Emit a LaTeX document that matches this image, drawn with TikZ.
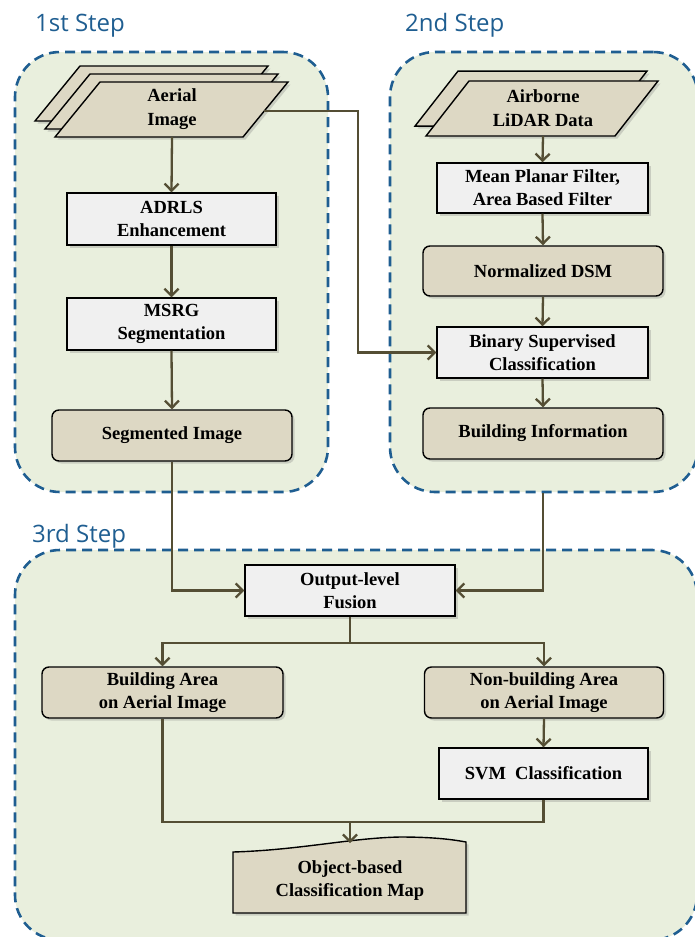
\documentclass[tikz,border=0pt]{standalone}
\usepackage{fontspec}
\setmainfont{Liberation Serif}
\newfontfamily\titlefont{Open Sans}
\usetikzlibrary{arrows.meta,shadows}
\definecolor{framegreen}{RGB}{233,239,221}
\definecolor{frameblue}{RGB}{31,94,145}
\definecolor{tanfill}{RGB}{221,216,196}
\definecolor{grayfill}{RGB}{240,240,240}
\definecolor{connector}{RGB}{84,78,52}
\tikzset{
  stepframe/.style={draw=frameblue, fill=framegreen, line width=2.6pt, dash pattern=on 10pt off 6pt, rounded corners=45pt, inner sep=0pt},
  steptitle/.style={font=\titlefont\fontsize{24}{28}\selectfont, text=frameblue, anchor=base west, inner sep=0pt},
  boxshadow/.style={drop shadow={opacity=0.3, shadow xshift=2.5pt, shadow yshift=-2.5pt}},
  boxtext/.style={font=\bfseries\fontsize{18.5}{23}\selectfont, align=center, inner sep=0pt},
  graybox/.style={boxtext, draw=black, line width=1.4pt, fill=grayfill, boxshadow},
  tanbox/.style={boxtext, draw=black, line width=1.4pt, fill=tanfill, rounded corners=7pt, boxshadow},
  shapebody/.style={draw=black, line width=1.4pt, fill=tanfill, line join=miter, boxshadow},
  conn/.style={draw=connector, line width=2.3pt},
  arr/.style={conn, -{Straight Barb[length=7pt,width=14pt]}},
}
\begin{document}
\begin{tikzpicture}[x=1pt,y=-1pt]
\useasboundingbox (0,0) rectangle (695,937);
% frames
\node[stepframe, minimum width=313pt, minimum height=440pt] (s1) at (171.5,272) {};
\node[stepframe, minimum width=308pt, minimum height=440pt] (s2) at (544,272) {};
\node[stepframe, minimum width=682pt, minimum height=390pt] (s3) at (356,745) {};
\node[steptitle] (t1) at (35,31) {1st Step};
\node[steptitle] (t2) at (405,31) {2nd Step};
\node[steptitle] (t3) at (32,542) {3rd Step};
% aerial image (stacked parallelograms)
\foreach \d in {20,10,0}{
  \draw[shapebody] (55-\d,137-0.8*\d) -- (243-\d,137-0.8*\d) -- (288-\d,82-0.8*\d) -- (100-\d,82-0.8*\d) -- cycle;
}
\node[boxtext, minimum width=150pt, minimum height=55pt] (aerial) at (172,109.5) {Aerial\\[1pt]Image};
\coordinate (aerialR) at (264,111);
% lidar
\foreach \d in {11,0}{
  \draw[shapebody] (426-\d,136-0.9*\d) -- (615-\d,136-0.9*\d) -- (658-\d,81-0.9*\d) -- (469-\d,81-0.9*\d) -- cycle;
}
\node[boxtext, minimum width=150pt, minimum height=55pt] (lidar) at (543,108.5) {Airborne\\[1pt]LiDAR Data};
% step 1 boxes
\node[graybox, minimum width=209pt, minimum height=52pt] (adrls) at (171.5,219) {ADRLS\\Enhancement};
\node[graybox, minimum width=209pt, minimum height=52pt] (msrg) at (171.5,324) {MSRG\\Segmentation};
\node[tanbox, minimum width=240pt, minimum height=51pt] (seg) at (172,435.5) {Segmented Image};
% step 2 boxes
\node[graybox, minimum width=211pt, minimum height=50pt] (mean) at (542.5,188) {Mean Planar Filter,\\Area Based Filter};
\node[tanbox, minimum width=240pt, minimum height=50pt] (ndsm) at (543,271) {Normalized DSM};
\node[graybox, minimum width=211pt, minimum height=51pt] (binary) at (542.5,352.5) {Binary Supervised\\Classification};
\node[tanbox, minimum width=240pt, minimum height=51pt] (binfo) at (543,433.5) {Building Information};
% step 3 boxes
\node[graybox, minimum width=210pt, minimum height=51pt] (fusion) at (350,590.5) {Output-level\\Fusion};
\node[tanbox, minimum width=241pt, minimum height=51pt] (barea) at (162.5,692.5) {Building Area\\on Aerial Image};
\node[tanbox, minimum width=239pt, minimum height=51pt] (narea) at (544,692.5) {Non-building Area\\on Aerial Image};
\node[graybox, minimum width=209pt, minimum height=51pt] (svm) at (543.5,773.5) {SVM~~Classification};
% object-based map
\draw[shapebody] (233,913) -- (233,852) .. controls (300,850) and (350,838) .. (400,837) .. controls (430,837) and (450,839) .. (466,842) -- (466,913) -- cycle;
\node[boxtext, minimum width=200pt, minimum height=40pt] (omap) at (350,881) {Object-based\\Classification Map};
\coordinate (omapTop) at (350,843);
% connectors
\draw[arr] (aerial.south) -- (adrls.north);
\draw[arr] (adrls.south) -- (msrg.north);
\draw[arr] (msrg.south) -- (seg.north);
\draw[arr] (aerialR) -- (358,111) -- (358,352.5) -- (binary.west);
\draw[arr] (lidar.south) -- (mean.north);
\draw[arr] (mean.south) -- (ndsm.north);
\draw[arr] (ndsm.south) -- (binary.north);
\draw[arr] (binary.south) -- (binfo.north);
\draw[arr] (seg.south) -- (seg.south |- fusion.west) -- (fusion.west);
\coordinate (s2out) at (s2.south -| binfo.south);
\draw[arr] (s2out) -- (s2out |- fusion.east) -- (fusion.east);
\coordinate (split) at (350,643);
\draw[conn] (fusion.south) -- (split);
\draw[arr] (split) -- (split -| barea.north) -- (barea.north);
\draw[arr] (split) -- (split -| narea.north) -- (narea.north);
\draw[arr] (narea.south) -- (svm.north);
\coordinate (merge) at (350,822);
\draw[conn] (barea.south) -- (barea.south |- merge) -- (merge);
\draw[conn] (svm.south) -- (svm.south |- merge) -- (merge);
\draw[arr] (merge) -- (omapTop);
\end{tikzpicture}
\end{document}
